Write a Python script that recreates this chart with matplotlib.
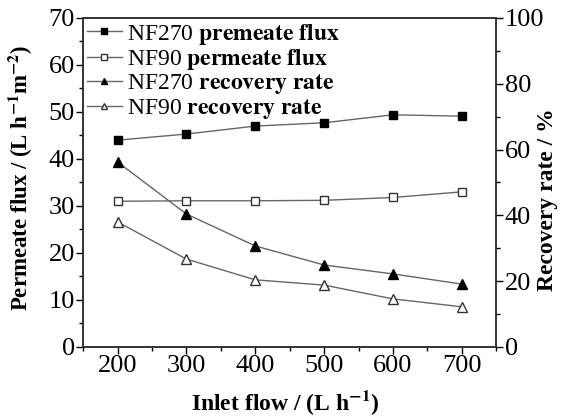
import numpy as np
import matplotlib
matplotlib.use('Agg')
import matplotlib.pyplot as plt
from matplotlib.ticker import MultipleLocator

plt.rcParams['font.family'] = 'Liberation Serif'
plt.rcParams['mathtext.fontset'] = 'stix'

# data
inlet = [200, 300, 400, 500, 600, 700]
nf270_flux = [44.0, 45.3, 47.0, 47.7, 49.4, 49.1]
nf90_flux = [31.0, 31.1, 31.1, 31.2, 31.8, 33.0]
nf270_rec = [56.2, 40.4, 30.7, 24.9, 22.2, 19.1]
nf90_rec = [38.0, 26.7, 20.4, 18.8, 14.6, 12.2]

fig = plt.figure(figsize=(5.62, 4.18), dpi=100)
ax = fig.add_axes([0.148, 0.170, 0.735, 0.787])
ax2 = ax.twinx()

lc = '#666666'
l1, = ax.plot(inlet, nf270_flux, color=lc, lw=1.0, marker='s', ms=5.5,
              mfc='black', mec='black')
l2, = ax.plot(inlet, nf90_flux, color=lc, lw=1.0, marker='s', ms=5.5,
              mfc='white', mec='#333333')
l3, = ax2.plot(inlet, nf270_rec, color=lc, lw=1.0, marker='^', ms=6.5,
               mfc='black', mec='black')
l4, = ax2.plot(inlet, nf90_rec, color=lc, lw=1.0, marker='^', ms=6.5,
               mfc='white', mec='#333333')

ax.set_xlim(150, 750)
ax.set_ylim(0, 70)
ax2.set_ylim(0, 100)

ax.xaxis.set_major_locator(MultipleLocator(100))
ax.xaxis.set_minor_locator(MultipleLocator(50))
ax.yaxis.set_major_locator(MultipleLocator(10))
ax.yaxis.set_minor_locator(MultipleLocator(5))
ax2.yaxis.set_major_locator(MultipleLocator(20))
ax2.yaxis.set_minor_locator(MultipleLocator(10))

for a in (ax, ax2):
    a.tick_params(which='major', direction='out', length=5, width=1,
                  labelsize=19, pad=1)
    a.tick_params(which='minor', direction='out', length=3, width=1)
    for s in a.spines.values():
        s.set_linewidth(1.2)
        s.set_color('#333333')

ax.set_xlabel('Inlet flow / (L h$^{\\mathbf{-1}}$)', fontsize=17,
              fontweight='bold')
ax.xaxis.set_label_coords(0.489, -0.125)
ax.set_ylabel('Permeate flux / (L h$^{\\mathbf{-1}}$m$^{\\mathbf{-2}}$)',
              fontsize=16.5, fontweight='bold')
ax.yaxis.set_label_coords(-0.117, 0.514)
ax2.set_ylabel('Recovery rate / %', fontsize=17, fontweight='bold')
ax2.yaxis.set_label_coords(1.098, 0.447)

labels = ['NF270 $\\mathbf{premeate\\ flux}$',
          'NF90 $\\mathbf{permeate\\ flux}$',
          'NF270 $\\mathbf{recovery\\ rate}$',
          'NF90 $\\mathbf{recovery\\ rate}$']
leg = ax.legend([l1, l2, l3, l4], labels, loc='upper left',
                bbox_to_anchor=(0.0, 1.0), frameon=False, fontsize=17,
                handlelength=1.5, handletextpad=0.2, labelspacing=0.02,
                borderaxespad=0.0, borderpad=0.15, markerscale=0.75)

fig.savefig('out.png', dpi=100)
